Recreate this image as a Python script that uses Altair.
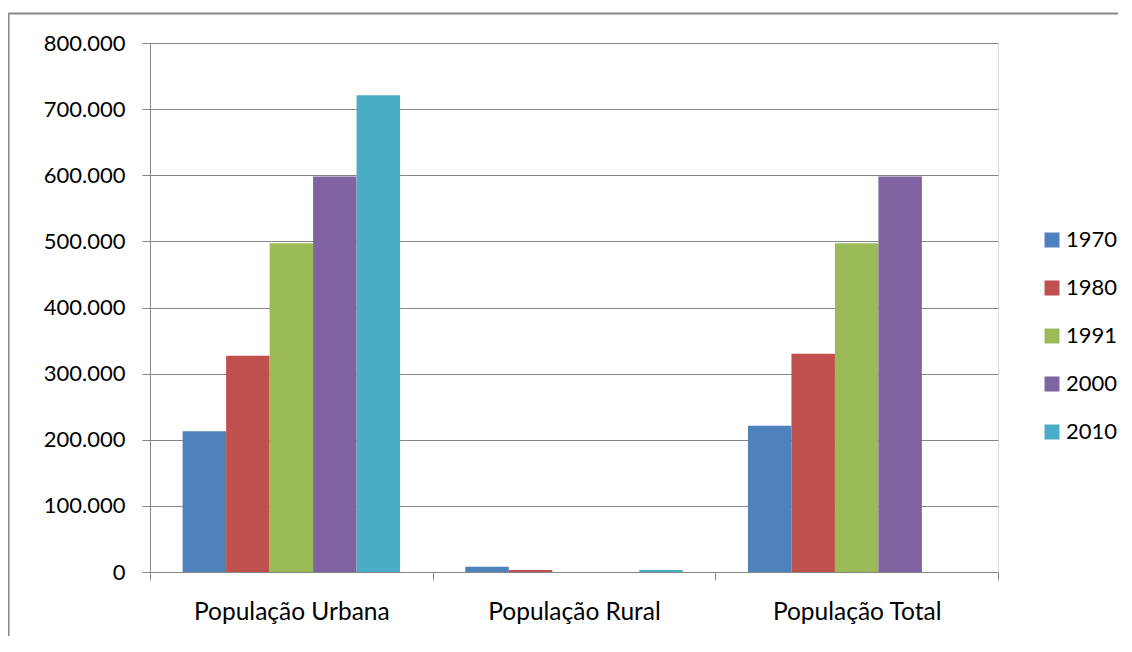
import altair as alt
import pandas as pd

categories = ["População Urbana", "População Rural", "População Total"]
years = ["1970", "1980", "1991", "2000", "2010"]
urbana = [213000, 327000, 497000, 598000, 721000]
rural = [8000, 3000, None, None, 3000]
total = [221000, 330000, 497000, 598000, None]
colors = ["#4F81BD", "#C0504D", "#9BBB59", "#8064A2", "#4BACC6"]
y_ticks = [0, 100000, 200000, 300000, 400000, 500000, 600000, 700000, 800000]

rows = []
for cat, vals in zip(categories, [urbana, rural, total]):
    for yr, v in zip(years, vals):
        if v is not None:
            rows.append({"cat": cat, "year": yr, "value": v})
df = pd.DataFrame(rows)

FONT = "Lato"
GRID = "#868686"

bars = alt.Chart(df).mark_bar().encode(
    x=alt.X("cat:N", sort=categories,
            scale=alt.Scale(paddingInner=0, paddingOuter=0),
            axis=alt.Axis(title=None, labelAngle=0, tickBand="extent", tickSize=8,
                          tickColor=GRID, domainColor=GRID, labelPadding=20,
                          labelFontSize=24.5, labelFont=FONT, labelColor="black",
                          labelLimit=400, grid=False)),
    xOffset=alt.XOffset("year:N", sort=years,
                        scale=alt.Scale(domain=years, paddingInner=0, paddingOuter=0.75)),
    y=alt.Y("value:Q",
            scale=alt.Scale(domain=[0, 800000], nice=False),
            axis=alt.Axis(title=None, values=y_ticks, tickSize=8, tickColor=GRID,
                          domainColor=GRID, gridColor=GRID, gridWidth=1,
                          labelPadding=17, labelFontSize=22, labelFont=FONT,
                          labelColor="black",
                          labelExpr="datum.value == 0 ? '0' : format(datum.value / 1000, 'd') + '.000'")),
    color=alt.Color("year:N", sort=years,
                    scale=alt.Scale(domain=years, range=colors),
                    legend=alt.Legend(title=None, orient="none", legendX=891, legendY=186,
                                      symbolType="square", symbolSize=225,
                                      symbolStrokeWidth=0, labelFontSize=22,
                                      labelFont=FONT, labelColor="black",
                                      labelOffset=3, rowPadding=26)),
)

one = pd.DataFrame({"a": [0]})
top_line = alt.Chart(one).mark_rule(stroke=GRID, strokeWidth=2).encode(
    x=alt.value(-141.5), x2=alt.value(968), y=alt.value(-29.5),
)
left_line = alt.Chart(one).mark_rule(stroke=GRID, strokeWidth=2).encode(
    x=alt.value(-141.5), y=alt.value(-29.5), y2=alt.value(600),
)

chart = alt.layer(top_line, left_line, bars).properties(
    width=848, height=529,
    autosize=alt.AutoSizeParams(type="none"),
    padding={"left": 142, "top": 35, "right": 120, "bottom": 64},
).configure_view(stroke=None).configure(background="white")

chart.save("out.html", embed_options={"renderer": "svg", "actions": False})
